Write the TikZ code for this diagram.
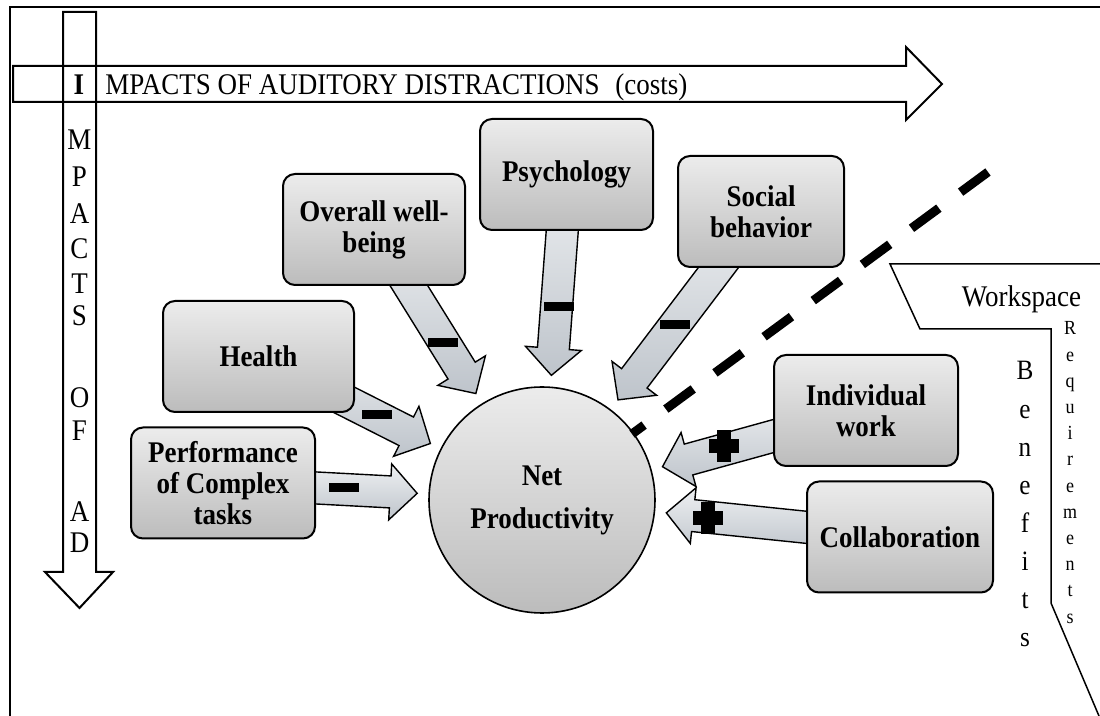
\documentclass[tikz,border=0pt]{standalone}
\usepackage{fontspec}
\setmainfont{Liberation Serif}[FakeStretch=0.9]
\usetikzlibrary{calc,backgrounds}

\definecolor{boxtop}{RGB}{236,236,236}
\definecolor{boxbottom}{RGB}{188,188,188}
\definecolor{arrowlight}{RGB}{238,240,242}
\definecolor{arrowdark}{RGB}{190,196,203}

\tikzset{
  factor/.style={draw, line width=1pt, rounded corners=6pt, top color=boxtop,
    bottom color=boxbottom, align=center, minimum height=55.5pt, inner sep=2pt,
    font=\bfseries\fontsize{15}{15.5}\selectfont},
  impact arrow/.style={draw, line width=0.7pt, top color=arrowlight, bottom color=arrowdark},
  minus sign/.style={fill=black, minimum width=15pt, minimum height=4.5pt, inner sep=0pt},
  plus sign/.style={minimum width=15pt, minimum height=16pt, inner sep=0pt,
    path picture={
      \fill ([xshift=-3.4pt]path picture bounding box.north) rectangle ([xshift=3.4pt]path picture bounding box.south);
      \fill ([yshift=3.4pt]path picture bounding box.west) rectangle ([yshift=-3.4pt]path picture bounding box.east);}},
  heading/.style={font=\fontsize{15}{18}\selectfont}
}

% block arrow from a factor box towards the circle
\newcommand\impactarrow[1]{%
  \path let \p1=(#1.center), \p2=($(net.center)!62.5pt!(#1.center)$),
    \n1={atan2(\y2-\y1,\x2-\x1)}, \n2={veclen(\x2-\x1,\y2-\y1)} in
    \pgfextra{\xdef\arrowangle{\n1}\xdef\arrowlength{\n2}};
  \begin{scope}[shift={(#1.center)}, rotate=\arrowangle]
    \draw[impact arrow] (0pt,8pt) -- ({\arrowlength*1pt-13.5pt},8pt)
      -- ({\arrowlength*1pt-13.5pt},14pt) -- ({\arrowlength*1pt},0pt)
      -- ({\arrowlength*1pt-13.5pt},-14pt) -- ({\arrowlength*1pt-13.5pt},-8pt)
      -- (0pt,-8pt) -- cycle;
  \end{scope}}

\begin{document}
\begin{tikzpicture}[x=0.5pt, y=-0.5pt]
    \useasboundingbox (0,0) rectangle (1100,716);
    \draw[line width=1pt] (10,716) -- (10,7) -- (1100,7);
    \draw[line width=1pt] (13,66) -- (906,66) -- (906,47) -- (942,84) -- (906,120) -- (906,102) -- (13,102) -- cycle;
    \draw[line width=1pt] (63,12) -- (96,12) -- (96,572) -- (113,572) -- (79.5,608) -- (45,572) -- (63,572) -- cycle;
    \node[heading, font=\bfseries\fontsize{15}{18}\selectfont] (ititle) at (79,85) {I};
    \node[heading, anchor=base west, inner sep=0pt] (htitle) at (105,95) {MPACTS OF AUDITORY DISTRACTIONS\hspace{0.3em} (costs)};
    \foreach \ch/\y [count=\i] in {M/140,P/177,A/214,C/249,T/284,S/316,O/398,F/431,A/512,D/543}
        \node[heading, inner sep=0pt] (vt\i) at (79.5,\y) {\ch};

    \node[factor, minimum width=92pt] (perf) at (223,483) {Performance\\of Complex\\tasks};
    \node[factor, minimum width=95.5pt] (health) at (258.5,356.5) {Health};
    \node[factor, minimum width=91pt] (well) at (374,229.5) {Overall well-\\being};
    \node[factor, minimum width=86.5pt] (psych) at (566.5,174.5) {Psychology};
    \node[factor, minimum width=83pt] (social) at (761,211.5) {Social\\behavior};
    \node[factor, minimum width=92pt] (indiv) at (866,410.5) {Individual\\work};
    \node[factor, minimum width=93pt] (collab) at (900,537) {Collaboration};
    \node[draw, circle, line width=0.8pt, top color=boxtop, bottom color=boxbottom, minimum size=113pt,
        align=center, font=\bfseries\fontsize{15}{21.5}\selectfont] (net) at (542,500) {Net\\Productivity};

    \begin{scope}[on background layer]
        \foreach \b in {perf,health,well,psych,social,indiv,collab}
            \impactarrow{\b};
    \end{scope}

    \node[minus sign] (m1) at (344,487.5) {};
    \node[minus sign] (m2) at (377,415) {};
    \node[minus sign] (m3) at (443,342.5) {};
    \node[minus sign] (m4) at (559,306.5) {};
    \node[minus sign] (m5) at (674.5,324.5) {};
    \node[plus sign] (p1) at (724,446) {};
    \node[plus sign] (p2) at (708,518) {};

    \draw[line width=4.5pt, dash pattern=on 17pt off 13.5pt] (988,172) -- (632,434);

    \draw[line width=0.75pt] (1100,264) -- (890,264) -- (920,329) -- (1051,329) -- (1051,603) -- (1099,716);
    \node[heading, anchor=base, inner sep=0pt] (wsp) at (1021.5,307) {Workspace};
    \foreach \ch [count=\i from 0] in {B,e,n,e,f,i,t,s}
        \node[anchor=base, inner sep=0pt, font=\fontsize{14}{16}\selectfont] (ben\i) at (1025,{380+38.1*\i}) {\ch};
    \foreach \ch [count=\i from 0] in {R,e,q,u,i,r,e,m,e,n,t,s}
        \node[anchor=base, inner sep=0pt, font=\fontsize{10}{12}\selectfont] (req\i) at (1070,{335+26.2*\i}) {\ch};
\end{tikzpicture}
\end{document}
